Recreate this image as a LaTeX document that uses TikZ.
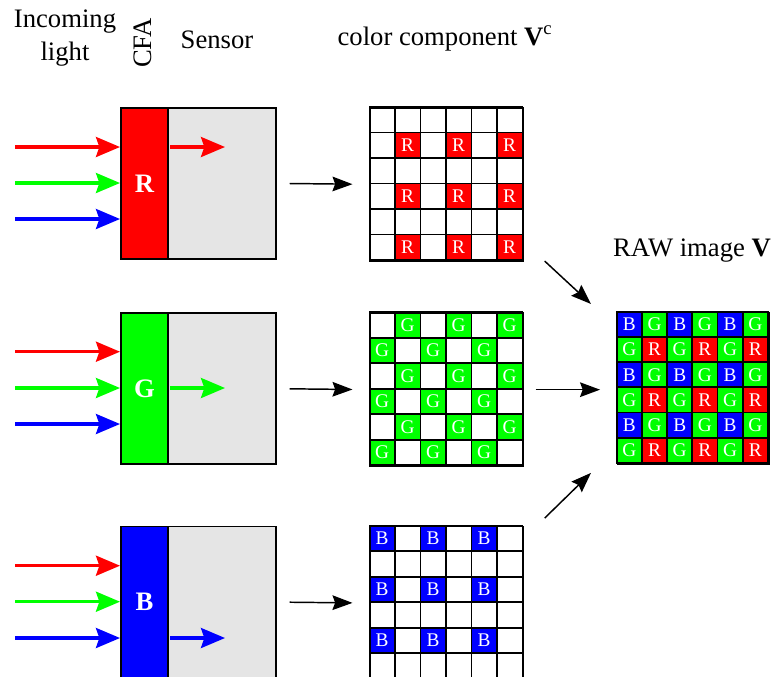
\documentclass[tikz,border=0pt]{standalone}
\usepackage{fontspec}
\setmainfont{Liberation Serif}
\usetikzlibrary{arrows.meta}

\definecolor{pR}{RGB}{255,0,0}
\definecolor{pG}{RGB}{0,255,0}
\definecolor{pB}{RGB}{0,0,255}
\definecolor{sensorgray}{RGB}{229,229,229}

\begin{document}
\begin{tikzpicture}[x=0.75pt,y=-0.75pt,
  lbl/.style={font=\fontsize{20}{24.75}\selectfont, inner sep=0pt},
  filterbox/.style={draw=black, line width=1.3pt, inner sep=0pt, anchor=north west,
    minimum width=35.6pt, minimum height=113.25pt, text=white,
    font=\fontsize{20}{24}\selectfont\bfseries},
  sensorbox/.style={draw=black, line width=1.3pt, fill=sensorgray, inner sep=0pt,
    anchor=north west, minimum width=80.85pt, minimum height=113.25pt},
  gridbox/.style={draw=black, line width=1.3pt, inner sep=0pt, anchor=north west,
    minimum width=114.75pt, minimum height=114.75pt},
  cellbox/.style={draw=black, line width=1.3pt, inner sep=0pt, minimum size=19.125pt,
    text=white, font=\fontsize{14.5}{17}\selectfont},
  rawcell/.style={cellbox, minimum size=18.9pt},
  rawbox/.style={gridbox, minimum width=113.4pt, minimum height=113.4pt},
  lightarrow/.style={line width=2.3pt, -{Stealth[length=18pt, width=15pt, inset=2.5pt]}},
  flowarrow/.style={line width=1.1pt, -{Stealth[length=15pt, width=11pt, inset=2pt]}}
]
\useasboundingbox (0,0) rectangle (774,676);
\clip (0,0) rectangle (774,676);

% column headings
\node[lbl, align=center] (hIn) at (65,38) {Incoming\\light};
\node[lbl, rotate=90] (hCFA) at (142.5,43) {CFA};
\node[lbl, anchor=base] (hSen) at (217,48) {Sensor};
\node[lbl, anchor=base] (hComp) at (445,45) {color component \textbf{V}\textsuperscript{c}};
\node[lbl, anchor=base] (hRaw) at (692,256) {RAW image \textbf{V}};

% sensors (grey) and colour filters in front of them
\node[sensorbox] (sR) at (167.5,107) {};
\node[sensorbox] (sG) at (167.5,312.3) {};
\node[sensorbox] (sB) at (167.5,525.7) {};
\node[filterbox, fill=pR] (fR) at (120,107) {R};
\node[filterbox, fill=pG] (fG) at (120,312.3) {G};
\node[filterbox, fill=pB] (fB) at (120,525.7) {B};

% incoming light rays
\coordinate (lR1) at (15,147);   \coordinate (lR2) at (15,183);   \coordinate (lR3) at (15,219);
\coordinate (lG1) at (15,351.7); \coordinate (lG2) at (15,388);   \coordinate (lG3) at (15,424);
\coordinate (lB1) at (15,565.7); \coordinate (lB2) at (15,601.7); \coordinate (lB3) at (15,638);
\draw[lightarrow, pR] (lR1) -- (lR1 -| fR.west);
\draw[lightarrow, pG] (lR2) -- (lR2 -| fR.west);
\draw[lightarrow, pB] (lR3) -- (lR3 -| fR.west);
\draw[lightarrow, pR] (lG1) -- (lG1 -| fG.west);
\draw[lightarrow, pG] (lG2) -- (lG2 -| fG.west);
\draw[lightarrow, pB] (lG3) -- (lG3 -| fG.west);
\draw[lightarrow, pR] (lB1) -- (lB1 -| fB.west);
\draw[lightarrow, pG] (lB2) -- (lB2 -| fB.west);
\draw[lightarrow, pB] (lB3) -- (lB3 -| fB.west);

% transmitted light inside the sensor
\coordinate (tRs) at (170,147);   \coordinate (tRe) at (225,147);
\coordinate (tGs) at (170,388);   \coordinate (tGe) at (225,388);
\coordinate (tBs) at (170,638);   \coordinate (tBe) at (225,638);
\draw[lightarrow, pR] (tRs) -- (tRe);
\draw[lightarrow, pG] (tGs) -- (tGe);
\draw[lightarrow, pB] (tBs) -- (tBe);

% colour component grids
\foreach \r in {0,...,5} \foreach \c in {0,...,5} {
  \node[cellbox, fill=white] at (369.4+25.5*\c+12.75, 107+25.5*\r+12.75) {};
  \node[cellbox, fill=white] at (369.4+25.5*\c+12.75, 312.3+25.5*\r+12.75) {};
  \node[cellbox, fill=white] at (369.4+25.5*\c+12.75, 525.7+25.5*\r+12.75) {};
}
\foreach \r in {1,3,5} \foreach \c in {1,3,5}
  \node[cellbox, fill=pR] at (369.4+25.5*\c+12.75, 107+25.5*\r+12.75) {R};
\foreach \r in {0,2,4} \foreach \c in {1,3,5} {
  \node[cellbox, fill=pG] at (369.4+25.5*\c+12.75, 312.3+25.5*\r+12.75) {G};
  \node[cellbox, fill=pG] at (369.4+25.5*\c-12.75, 312.3+25.5*\r+38.25) {G};
}
\foreach \r in {0,2,4} \foreach \c in {0,2,4}
  \node[cellbox, fill=pB] at (369.4+25.5*\c+12.75, 525.7+25.5*\r+12.75) {B};
\node[gridbox] (gR) at (369.4,107) {};
\node[gridbox] (gG) at (369.4,312.3) {};
\node[gridbox] (gB) at (369.4,525.7) {};

% RAW mosaic
\foreach \r in {0,2,4} \foreach \c in {0,2,4} {
  \node[rawcell, fill=pB] at (616.7+25.2*\c+12.6, 311.7+25.2*\r+12.6) {B};
  \node[rawcell, fill=pG] at (616.7+25.2*\c+37.8, 311.7+25.2*\r+12.6) {G};
  \node[rawcell, fill=pG] at (616.7+25.2*\c+12.6, 311.7+25.2*\r+37.8) {G};
  \node[rawcell, fill=pR] at (616.7+25.2*\c+37.8, 311.7+25.2*\r+37.8) {R};
}
\node[rawbox] (raw) at (616.7,311.7) {};

% flow from sensors to components and to the RAW image
\draw[flowarrow, shorten <=9.5pt, shorten >=12.7pt] (sR.east) -- (gR.west);
\draw[flowarrow, shorten <=9.5pt, shorten >=12.7pt] (sG.east) -- (gG.west);
\draw[flowarrow, shorten <=9.5pt, shorten >=12.7pt] (sB.east) -- (gB.west);
\draw[flowarrow] ([xshift=15.4pt, yshift=0.5pt]gR.south east) -- ([xshift=-19.3pt, yshift=5.8pt]raw.north west);
\draw[flowarrow, shorten <=8.6pt, shorten >=12.5pt] (gG.east) -- (gG.east -| raw.west);
\draw[flowarrow] ([xshift=15.4pt, yshift=5.7pt]gB.north east) -- ([xshift=-19.3pt, yshift=-6.2pt]raw.south west);
\end{tikzpicture}
\end{document}
